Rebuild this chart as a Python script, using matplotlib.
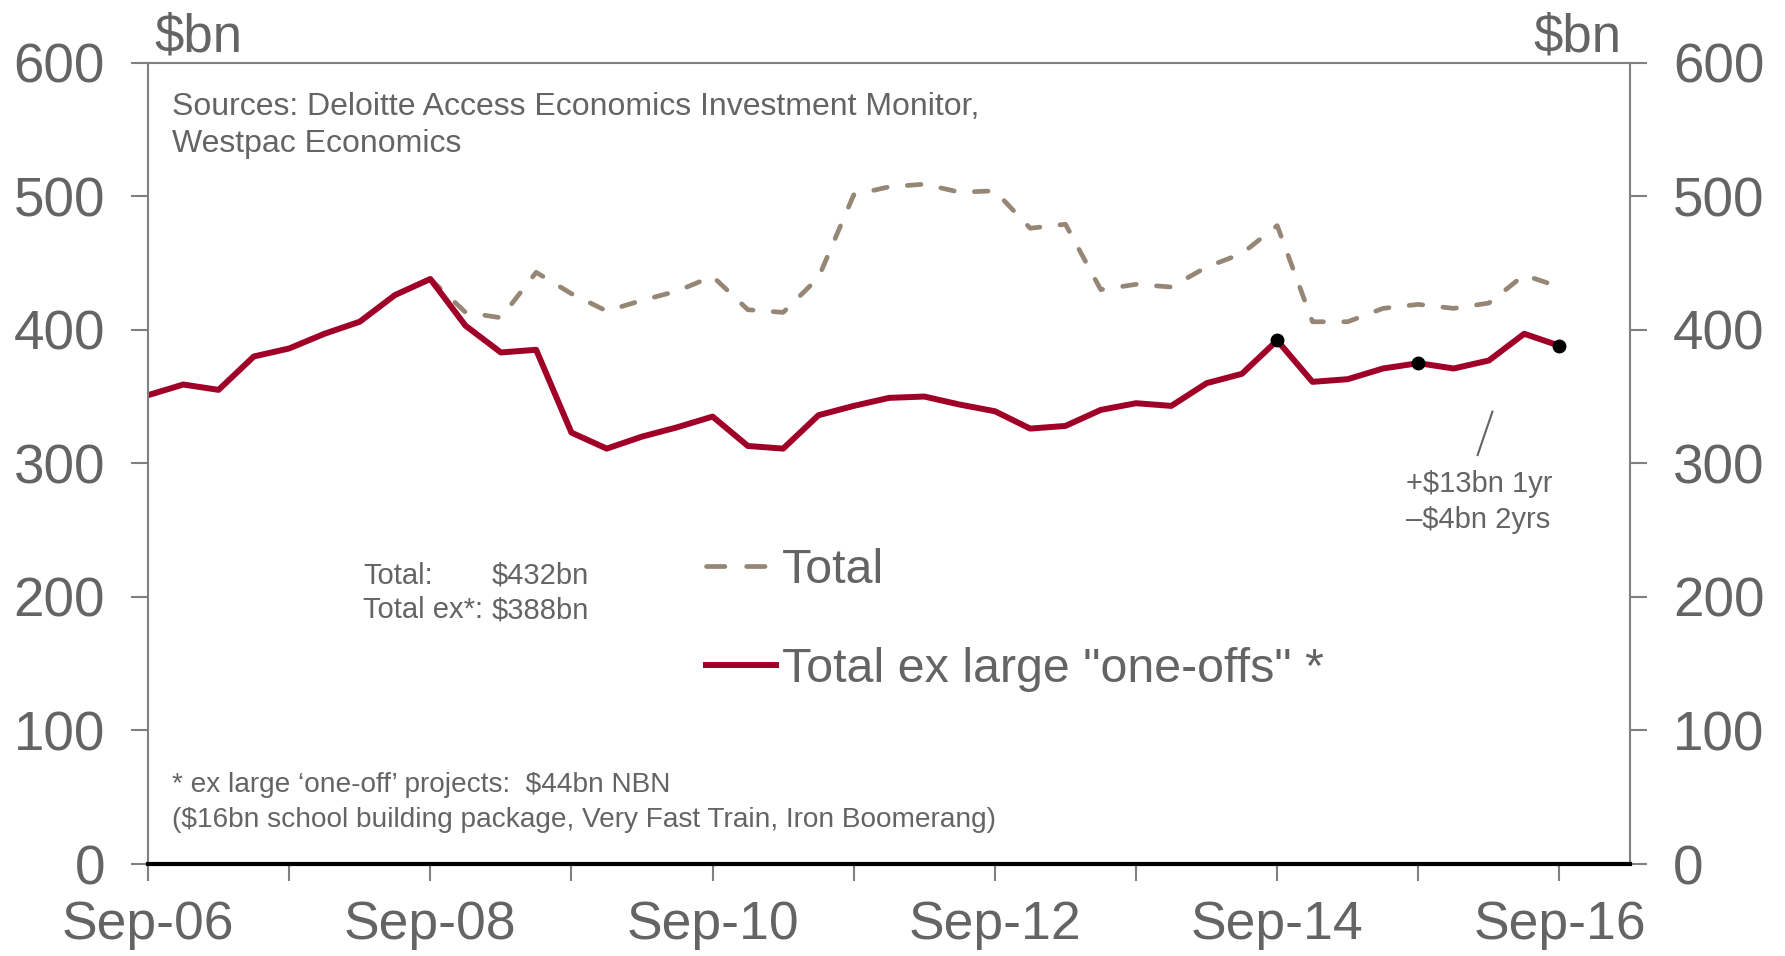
import numpy as np
import pandas as pd
import matplotlib
matplotlib.use("Agg")
import matplotlib.pyplot as plt

plt.rcParams["font.family"] = ["Liberation Sans", "DejaVu Sans"]

# quarterly, Sep-06 .. Sep-16
quarters = pd.date_range("2006-09-01", periods=41, freq="3MS")

# investment pipeline, $bn
ex_one_offs = [351, 359, 355, 380, 386, 397, 406, 426, 438,
               403, 383, 385, 323, 311, 320, 327, 335,
               313, 311, 336, 343, 349, 350, 344, 339,
               326, 328, 340, 345, 343, 360, 367, 392,
               361, 363, 371, 375, 371, 377, 397, 388]
total = [np.nan] * 8 + [438, 413, 409, 443, 427, 414, 422, 429, 440,
                        415, 413, 439, 501, 507, 509, 503, 504,
                        476, 479, 430, 434, 432, 447, 457, 478,
                        406, 406, 416, 419, 416, 420, 441, 432]
marked = ["2014-09-01", "2015-09-01", "2016-09-01"]

RED = "#A00028"
TAUPE = "#968676"
GREY = "#646464"
AXGREY = "#808080"

x = np.arange(len(quarters))
ex = np.array(ex_one_offs, dtype=float)
tot = np.array(total, dtype=float)
mk = np.array([quarters.get_loc(pd.Timestamp(d)) for d in marked])

fig = plt.figure(figsize=(17.85, 9.56), dpi=100)
ax = fig.add_axes([0.0829, 0.0962, 0.8303, 0.8383])

ax.plot(x, tot, color=TAUPE, lw=3.4, dashes=(2.9, 4.3),
        dash_capstyle="round", label="Total")
ax.plot(x, ex, color=RED, lw=4.3, label='Total ex large "one-offs" *')
ax.plot(x[mk], ex[mk], "o", color="black", ms=9, zorder=5)

ax.set_xlim(0, 42)
ax.set_ylim(0, 600)

# yearly ticks, labels every second year
ax.set_xticks(x[::8])
ax.set_xticklabels([q.strftime("%b-%y") for q in quarters[::8]])
ax.set_xticks(x[4::8], minor=True)
ax.set_yticks(range(0, 601, 100))

ax.tick_params(axis="y", direction="out", length=12, width=1.5, color=AXGREY,
               labelsize=39.5, labelcolor=GREY, pad=19,
               left=True, right=True, labelleft=True, labelright=True)
ax.tick_params(axis="x", which="both", direction="out", length=12, width=1.5,
               color=AXGREY, labelsize=38.5, labelcolor=GREY, pad=14)

for s in ["left", "right", "top"]:
    ax.spines[s].set_color(AXGREY)
    ax.spines[s].set_linewidth(1.5)
ax.spines["bottom"].set_color("black")
ax.spines["bottom"].set_linewidth(3)

ax.text(0.004, 1.014, "$bn", transform=ax.transAxes, ha="left",
        va="baseline", fontsize=38, color=GREY)
ax.text(0.994, 1.014, "$bn", transform=ax.transAxes, ha="right",
        va="baseline", fontsize=38, color=GREY)

ax.text(0.68, 567, "Sources: Deloitte Access Economics Investment Monitor,",
        fontsize=23, color=GREY, va="center")
ax.text(0.68, 539, "Westpac Economics", fontsize=23, color=GREY, va="center")

ax.text(6.1, 216, "Total:", fontsize=21, color=GREY, va="center")
ax.text(9.74, 216, f"${tot[-1]:.0f}bn", fontsize=21, color=GREY, va="center")
ax.text(6.1, 190, "Total ex*:", fontsize=21, color=GREY, va="center")
ax.text(9.74, 190, f"${ex[-1]:.0f}bn", fontsize=21, color=GREY, va="center")

one_yr = ex[-1] - ex[-5]
two_yr = ex[-1] - ex[-9]
ax.plot([38.1, 37.68], [338.7, 306.2], color=GREY, lw=1.5)
ax.text(35.65, 284.7, f"+${one_yr:.0f}bn 1yr", fontsize=21, color=GREY,
        va="center")
ax.text(35.65, 257.4, f"\u2013${abs(two_yr):.0f}bn 2yrs", fontsize=21,
        color=GREY, va="center")

ax.text(0.68, 58.8, "* ex large \u2018one-off\u2019 projects:  $44bn NBN",
        fontsize=20.2, color=GREY, va="center")
ax.text(0.68, 33.2,
        "($16bn school building package, Very Fast Train, Iron Boomerang)",
        fontsize=20.2, color=GREY, va="center")

leg = ax.legend(loc="upper left", bbox_to_anchor=(0.3765, 0.394),
                frameon=False, fontsize=34.8, handlelength=1.45,
                handletextpad=0.12, labelspacing=1.12, borderpad=0,
                borderaxespad=0)
for t in leg.get_texts():
    t.set_color(GREY)
# longer dashes in the key so it shows two strokes
leg.get_lines()[0].set_dashes((3.9, 4.6))

fig.savefig("out.png", dpi=100)
